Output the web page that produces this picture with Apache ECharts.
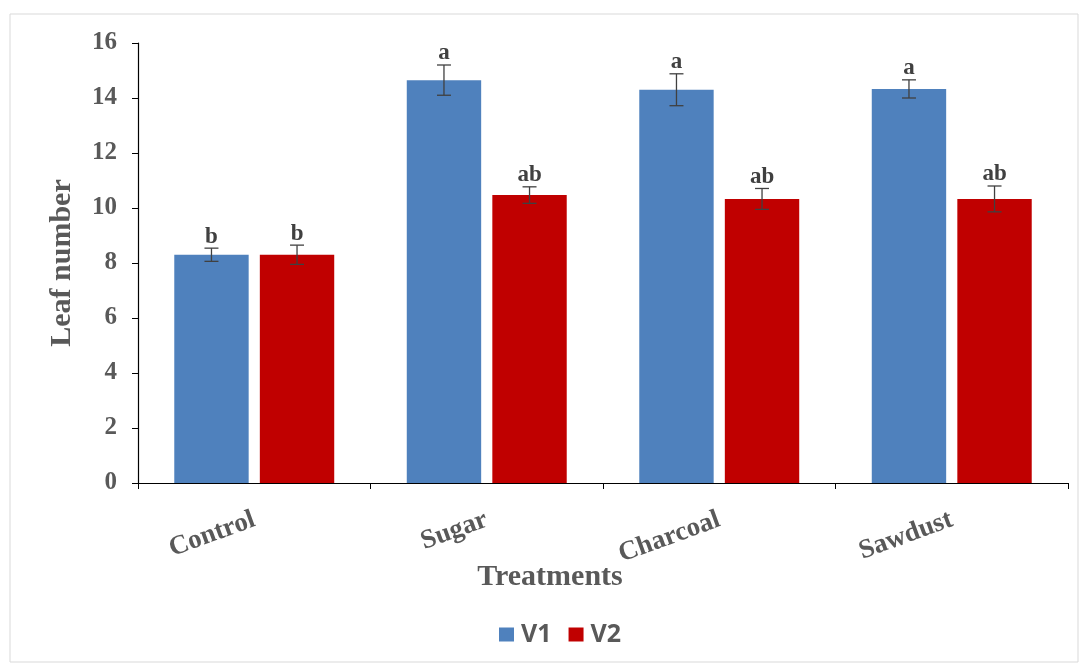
<!DOCTYPE html>
<html><head><meta charset="utf-8">
<script src="https://cdn.jsdelivr.net/npm/echarts@6/dist/echarts.min.js"></script>
<style>html,body{margin:0;padding:0;background:#fff}#c{width:1083px;height:668px}</style>
</head><body><div id="c"></div>
<script>
const categories = ['Control', 'Sugar', 'Charcoal', 'Sawdust'];
const v1 = [8.3, 14.65, 14.3, 14.33];
const v2 = [8.3, 10.47, 10.33, 10.33];
const v1Err = [0.24, 0.55, 0.58, 0.33];
const v2Err = [0.35, 0.3, 0.38, 0.47];
const v1Letters = ['b', 'a', 'a', 'a'];
const v2Letters = ['b', 'ab', 'ab', 'ab'];
const yTicks = [0, 2, 4, 6, 8, 10, 12, 14, 16];

const BAR_PCT = 0.32, GAP_PCT = 0.15;
const serif = '"Liberation Serif", "DejaVu Serif", serif';

function errSeries(vals, errs, letters, side) {
  return {
    type: 'custom',
    z: 10,
    data: vals.map((v, i) => [i, v, errs[i], letters[i]]),
    renderItem: function (params, api) {
      const i = api.value(0), v = api.value(1), e = api.value(2);
      const catW = api.size([1, 0])[0];
      const bw = catW * BAR_PCT, gap = bw * GAP_PCT;
      const cx = api.coord([i, v])[0] + side * (bw + gap) / 2;
      const yTop = api.coord([i, v + e])[1];
      const yBot = api.coord([i, v - e])[1];
      const cap = 7;
      const st = { stroke: '#404040', lineWidth: 1.3 };
      return {
        type: 'group',
        children: [
          { type: 'line', shape: { x1: cx, y1: yTop, x2: cx, y2: yBot }, style: st },
          { type: 'line', shape: { x1: cx - cap, y1: yTop, x2: cx + cap, y2: yTop }, style: st },
          { type: 'line', shape: { x1: cx - cap, y1: yBot, x2: cx + cap, y2: yBot }, style: st },
          { type: 'text', x: cx, y: yTop, style: {
              text: letters[i], fill: '#404040', font: 'bold 23px ' + serif,
              textAlign: 'center', textVerticalAlign: 'bottom' } }
        ]
      };
    }
  };
}

const chart = echarts.init(document.getElementById('c'));
chart.setOption({
  animation: false,
  backgroundColor: '#fff',
  graphic: [{ type: 'rect', shape: { x: 10, y: 14, width: 1068, height: 648 },
    style: { fill: 'none', stroke: '#d9d9d9', lineWidth: 1 }, silent: true }],
  grid: { left: 138, right: 15, top: 43, bottom: 185 },
  legend: {
    bottom: 16, left: 494, itemWidth: 15, itemHeight: 14, itemGap: 17,
    icon: 'rect',
    textStyle: { color: '#595959', fontSize: 25, fontWeight: 'bold', fontFamily: '"Open Sans", "Liberation Sans", sans-serif', padding: [0, 0, 0, 2] },
    data: ['V1', 'V2']
  },
  xAxis: {
    type: 'category', data: categories,
    name: 'Treatments', nameLocation: 'middle', nameGap: 79, nameMoveOverlap: false,
    nameTextStyle: { color: '#595959', fontSize: 30, fontWeight: 'bold', fontFamily: serif, padding: [0, 106, 0, 0] },
    axisLine: { show: true, lineStyle: { color: '#000', width: 1.2 } },
    axisTick: { show: true, length: 6, lineStyle: { color: '#000' } },
    axisLabel: { rotate: 20, margin: 36, color: '#595959', fontSize: 27, fontWeight: 'bold', fontFamily: serif }
  },
  yAxis: {
    type: 'value', min: 0, max: 16, interval: 2,
    name: 'Leaf number', nameLocation: 'middle', nameGap: 61, nameMoveOverlap: false,
    nameTextStyle: { color: '#595959', fontSize: 30, fontWeight: 'bold', fontFamily: serif },
    axisLine: { show: true, lineStyle: { color: '#000', width: 1.2 } },
    axisTick: { show: true, length: 6, lineStyle: { color: '#000' } },
    splitLine: { show: false },
    axisLabel: { margin: 21, color: '#595959', fontSize: 25, fontWeight: 'bold', fontFamily: serif,
      formatter: v => yTicks.includes(v) ? String(v) : '' }
  },
  series: [
    { name: 'V1', type: 'bar', data: v1, barWidth: (BAR_PCT * 100) + '%', barGap: (GAP_PCT * 100) + '%',
      itemStyle: { color: '#4f81bd' } },
    { name: 'V2', type: 'bar', data: v2, barWidth: (BAR_PCT * 100) + '%', barGap: (GAP_PCT * 100) + '%',
      itemStyle: { color: '#c00000' } },
    errSeries(v1, v1Err, v1Letters, -1),
    errSeries(v2, v2Err, v2Letters, 1)
  ]
});
</script></body></html>
